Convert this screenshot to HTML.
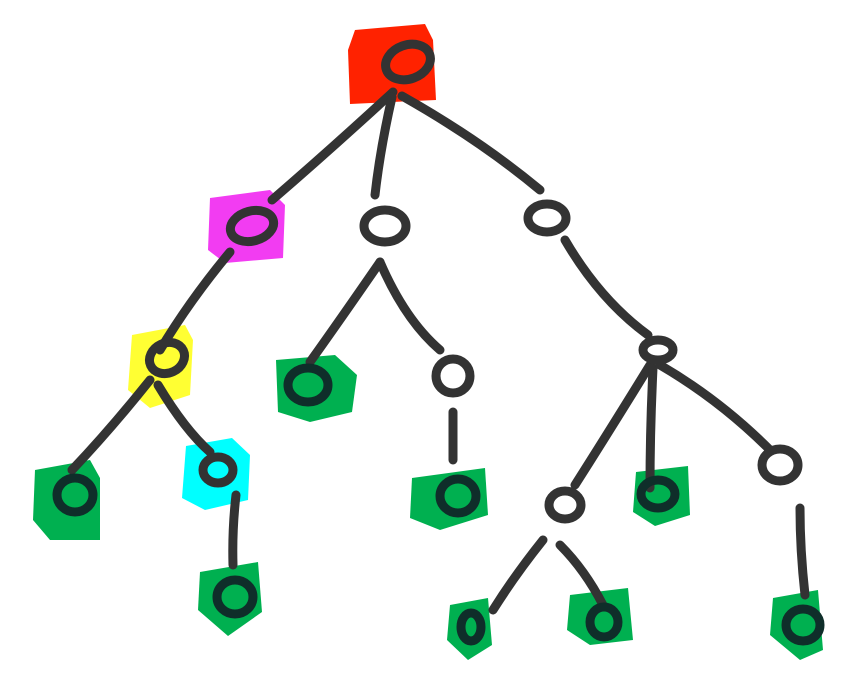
<!DOCTYPE html>
<html><head><meta charset="utf-8"><style>html,body{margin:0;padding:0;background:#fff}svg{display:block}</style></head>
<body>
<svg width="860" height="684" viewBox="0 0 860 684" xmlns="http://www.w3.org/2000/svg">
<g stroke="none">
<path d="M355 30 L425 24 L433 40 L436 100 L350 104 L348 50Z" fill="#ff2200"/>
<path d="M210 198 L270 190 L285 205 L283 258 L225 263 L208 250Z" fill="#f23cf2"/>
<path d="M132 335 L185 325 L193 340 L190 395 L150 408 L128 390Z" fill="#ffff33"/>
<path d="M276 360 L335 355 L357 375 L352 412 L310 422 L278 412Z" fill="#00b050"/>
<path d="M35 470 L90 460 L100 478 L100 540 L50 540 L33 520Z" fill="#00b050"/>
<path d="M186 446 L232 438 L250 455 L248 500 L205 510 L182 498Z" fill="#00ffff"/>
<path d="M412 478 L485 468 L488 515 L440 530 L410 518Z" fill="#00b050"/>
<path d="M636 472 L688 466 L690 515 L655 526 L633 512Z" fill="#00b050"/>
<path d="M200 572 L258 562 L262 612 L228 636 L198 610Z" fill="#00b050"/>
<path d="M450 605 L488 598 L492 645 L468 660 L447 640Z" fill="#00b050"/>
<path d="M570 595 L628 588 L633 640 L590 645 L567 630Z" fill="#00b050"/>
<path d="M773 598 L818 590 L823 650 L800 660 L770 635Z" fill="#00b050"/>
</g>
<g fill="none" stroke="#333" stroke-width="9" stroke-linecap="round" stroke-linejoin="round">
<path d="M393 92 Q330 150 272 200"/>
<path d="M392 97 Q380 150 375 195"/>
<path d="M402 96 Q480 140 540 190"/>
<path d="M230 252 Q190 300 160 350"/>
<path d="M150 380 Q110 430 72 470"/>
<path d="M158 385 Q185 430 210 452"/>
<path d="M236 495 Q232 530 233 565"/>
<path d="M380 262 Q340 320 310 362"/>
<path d="M380 262 Q405 320 440 350"/>
<path d="M453 412 L453 460"/>
<path d="M565 240 Q600 300 648 335"/>
<path d="M650 365 Q610 430 575 485"/>
<path d="M653 368 Q650 430 650 488"/>
<path d="M660 365 Q720 400 770 450"/>
<path d="M543 540 Q515 575 493 610"/>
<path d="M560 545 Q585 570 603 605"/>
<path d="M800 508 Q800 550 805 595"/>
<ellipse cx="408" cy="62" rx="23" ry="17" transform="rotate(-20 408 62)"/>
<ellipse cx="252" cy="226" rx="22" ry="15" transform="rotate(-15 252 226)"/>
<ellipse cx="385" cy="226" rx="21" ry="16"/>
<ellipse cx="547" cy="218" rx="19" ry="14"/>
<ellipse cx="167" cy="358" rx="18" ry="15" transform="rotate(-25 167 358)"/>
<ellipse cx="453" cy="376" rx="17" ry="17"/>
<ellipse cx="658" cy="350" rx="15" ry="10"/>
<ellipse cx="218" cy="470" rx="15" ry="13"/>
<ellipse cx="565" cy="505" rx="16" ry="14"/>
<ellipse cx="780" cy="465" rx="18" ry="16"/>
</g>
<g fill="none" stroke="#0f2e2a" stroke-width="9">
<ellipse cx="308" cy="385" rx="20" ry="17"/>
<ellipse cx="75" cy="495" rx="18" ry="17"/>
<ellipse cx="458" cy="496" rx="18" ry="17"/>
<ellipse cx="658" cy="494" rx="17" ry="14"/>
<ellipse cx="235" cy="597" rx="18" ry="17"/>
<ellipse cx="471" cy="627" rx="10" ry="14"/>
<ellipse cx="604" cy="622" rx="14" ry="15"/>
<ellipse cx="803" cy="625" rx="17" ry="16"/>
</g>
</svg>
</body></html>
